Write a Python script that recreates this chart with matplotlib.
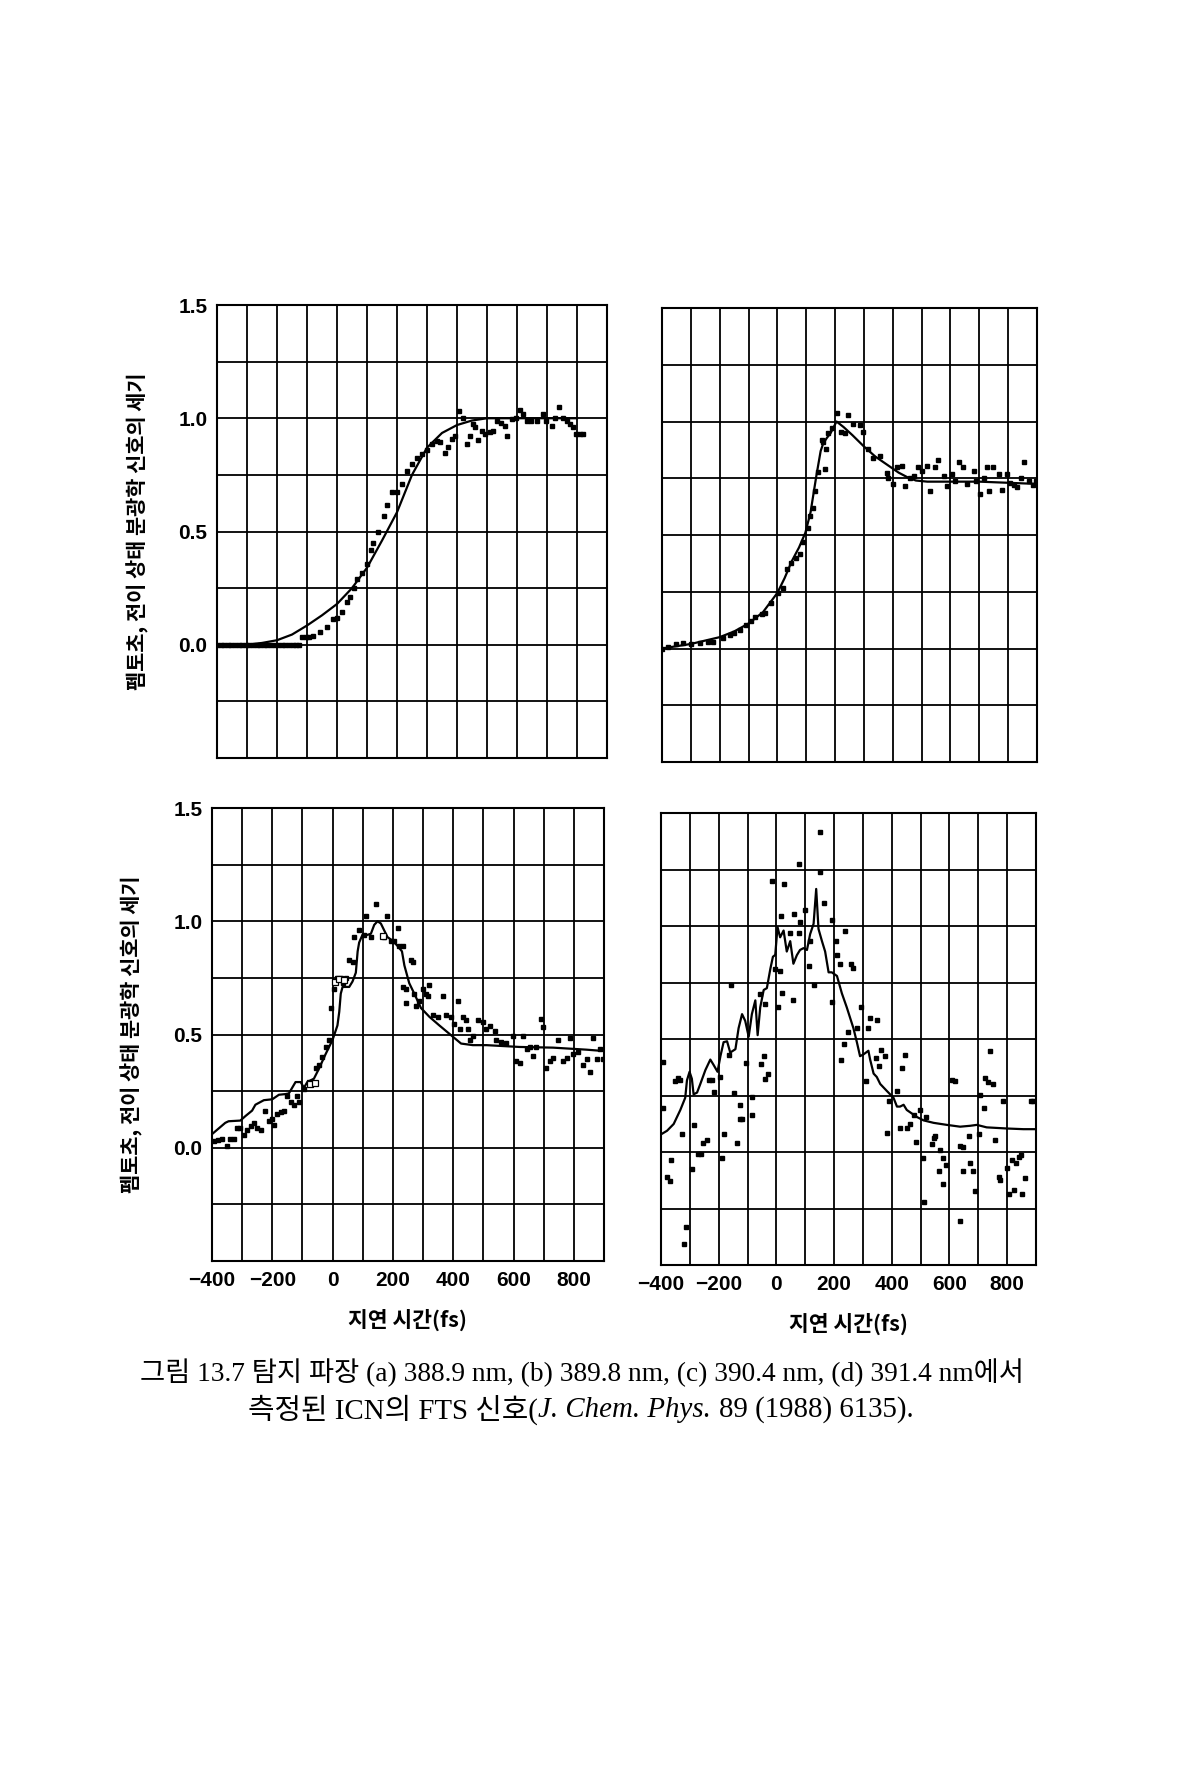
#!/usr/bin/env python3
"""ICN FTS 신호 (그림 13.7) 재현: 4개 패널, 선 + 점."""

import matplotlib
matplotlib.use("Agg")
import matplotlib.pyplot as plt

W, H = 1193, 1767

# --------------------------------------------------------------------
# 축 눈금
x_ticks = [-400, -300, -200, -100, 0, 100, 200, 300, 400, 500, 600, 700, 800, 900]
x_tick_labels = ["\u2212400", "", "\u2212200", "", "0", "", "200", "", "400", "", "600", "", "800", ""]
y_ticks = [-0.5, -0.25, 0.0, 0.25, 0.5, 0.75, 1.0, 1.25, 1.5]
y_tick_labels = ["", "", "0.0", "", "0.5", "", "1.0", "", "1.5"]

y_label = "펨토초, 전이 상태 분광학 신호의 세기"
x_label = "지연 시간(fs)"
caption_1 = "그림 13.7 탐지 파장 (a) 388.9 nm, (b) 389.8 nm, (c) 390.4 nm, (d) 391.4 nm에서"
caption_2 = [("측정된 ICN의 FTS 신호(", "normal"), ("J. Chem. Phys.", "italic"),
             ("89 (1988) 6135).", "normal")]

# --------------------------------------------------------------------
# (a) 388.9 nm
a_line_x = [-400, -350, -300, -250, -200, -150, -100, -50, 0, 50, 100, 150, 200,
            250, 300, 350, 400, 450, 500, 550, 600, 650, 700, 750, 800]
a_line_y = [0.0, 0.0, 0.0, 0.008, 0.02, 0.045, 0.085, 0.13, 0.18, 0.25, 0.34, 0.46, 0.585,
            0.75, 0.87, 0.935, 0.97, 0.99, 1.0, 1.0, 1.0, 1.0, 1.0, 1.0, 1.0]
a_pts_x = [-400, -388, -376, -364, -352, -340, -328, -316, -304, -292, -280, -268, -256,
           -244, -232, -220, -208, -196, -184, -172, -160, -148, -136, -126,
           -117, -105, -92, -80, -56, -34, -12, -1, 16, 33, 44, 55, 68, 83, 99, 112,
           121, 138, 155, 166, 182, 199, 216, 232, 249, 266, 282, 299, 315, 332, 343,
           360, 371, 382, 393, 408, 421, 432, 443, 452, 460, 471, 482, 493, 510, 521,
           534, 548, 560, 567, 582, 598, 609, 620, 632, 648, 665, 687, 698, 715, 726,
           740, 753, 765, 776, 787, 798, 809, 820]
a_pts_y = [0.0] * 24 + [
           0.035, 0.035, 0.035, 0.04, 0.055, 0.08, 0.115, 0.12, 0.145, 0.19, 0.21, 0.25,
           0.29, 0.315, 0.355, 0.42, 0.45, 0.5, 0.57, 0.615, 0.675, 0.675, 0.71, 0.765,
           0.8, 0.825, 0.84, 0.86, 0.885, 0.9, 0.895, 0.845, 0.875, 0.91, 0.92, 1.03,
           1.0, 0.885, 0.92, 0.975, 0.96, 0.905, 0.945, 0.93, 0.94, 0.945, 0.99, 0.98,
           0.965, 0.92, 0.995, 1.0, 1.035, 1.02, 0.99, 0.99, 0.99, 1.02, 0.99, 0.965,
           1.0, 1.05, 1.0, 0.99, 0.975, 0.96, 0.93, 0.93, 0.93]

# (b) 389.8 nm
b_line_x = [-400, -300, -200, -150, -100, -50, 0, 25, 50, 75, 97, 115, 135, 150, 158,
            170, 185, 205, 230, 260, 300, 340, 380, 420, 450, 480, 520, 600, 700, 800, 900]
b_line_y = [0.0, 0.02, 0.05, 0.075, 0.11, 0.16, 0.245, 0.31, 0.385, 0.445, 0.51, 0.6,
            0.76, 0.87, 0.9, 0.925, 0.95, 1.0, 0.975, 0.94, 0.89, 0.845, 0.81, 0.775,
            0.755, 0.74, 0.735, 0.735, 0.735, 0.73, 0.725]
b_pts_x = [-400, -380, -350, -328, -300, -270, -240, -224, -190, -166, -150, -131, -110,
           -90, -79, -55, -44, -21, 2, 19, 35, 48, 66, 77, 90, 106, 112, 124, 130, 141,
           153, 158, 164, 170, 176, 190, 205, 222, 234, 245, 263, 286, 298, 315, 332,
           355, 379, 384, 402, 413, 431, 442, 460, 475, 489, 500, 518, 529, 547, 558,
           576, 587, 605, 615, 628, 645, 657, 680, 690, 703, 715, 726, 732, 749, 767,
           778, 796, 807, 820, 831, 845, 854, 871, 885, 898]
b_pts_y = [0.0, 0.005, 0.02, 0.024, 0.02, 0.025, 0.03, 0.03, 0.045, 0.06, 0.07, 0.083,
           0.105, 0.12, 0.14, 0.15, 0.156, 0.2, 0.245, 0.267, 0.35, 0.378, 0.4, 0.415,
           0.47, 0.533, 0.585, 0.62, 0.695, 0.776, 0.917, 0.91, 0.79, 0.88, 0.95, 0.97,
           1.036, 0.955, 0.95, 1.03, 0.99, 0.985, 0.955, 0.88, 0.84, 0.85, 0.775, 0.75,
           0.725, 0.8, 0.805, 0.715, 0.75, 0.76, 0.8, 0.78, 0.805, 0.695, 0.8, 0.83,
           0.76, 0.715, 0.77, 0.74, 0.82, 0.8, 0.725, 0.78, 0.74, 0.68, 0.75, 0.8, 0.695,
           0.8, 0.77, 0.7, 0.77, 0.73, 0.72, 0.71, 0.75, 0.82, 0.74, 0.72, 0.74]

# (c) 390.4 nm
c_line_x = [-400, -378, -356, -345, -306, -289, -267, -256, -228, -200, -178, -156, -145,
            -134, -123, -106, -95, -84, -62, -45, -23, 0, 16, 22, 27, 33, 55, 66, 77, 83,
            88, 99, 116, 127, 138, 149, 160, 171, 182, 199, 216, 230, 238, 254, 271, 293,
            321, 354, 399, 426, 465, 510, 620, 731, 842, 900]
c_line_y = [0.06, 0.085, 0.11, 0.117, 0.12, 0.14, 0.164, 0.19, 0.21, 0.214, 0.234, 0.237,
            0.24, 0.265, 0.29, 0.29, 0.265, 0.29, 0.305, 0.35, 0.414, 0.477, 0.54, 0.6,
            0.68, 0.71, 0.71, 0.734, 0.773, 0.867, 0.906, 0.94, 0.94, 0.945, 0.984, 1.0,
            0.99, 0.96, 0.93, 0.914, 0.89, 0.867, 0.805, 0.727, 0.68, 0.617, 0.578, 0.54,
            0.49, 0.46, 0.453, 0.453, 0.445, 0.442, 0.433, 0.427]
c_pts_x = [-394, -380, -367, -350, -339, -328, -317, -306, -295, -284, -272, -261, -250,
           -239, -223, -211, -200, -195, -184, -172, -161, -150, -139, -128, -117, -111,
           -95, -78, -67, -56, -45, -34, -23, -12, -6, 5, 16, 27, 33, 44, 55, 66, 72, 88,
           105, 110, 127, 144, 171, 182, 193, 205, 216, 221, 232, 260, 266, 232, 243,
           243, 271, 277, 288, 299, 310, 316, 321, 332, 349, 365, 377, 393, 404, 415,
           421, 432, 443, 448, 454, 465, 482, 499, 510, 521, 537, 543, 560, 576, 598,
           609, 620, 631, 643, 654, 665, 676, 692, 698, 709, 720, 731, 748, 765, 776,
           787, 798, 815, 831, 842, 853, 864, 876, 887, 898]
c_pts_y = [0.03, 0.035, 0.04, 0.008, 0.04, 0.04, 0.086, 0.086, 0.055, 0.078, 0.094, 0.11,
           0.086, 0.078, 0.164, 0.117, 0.125, 0.1, 0.148, 0.156, 0.164, 0.227, 0.203,
           0.19, 0.227, 0.2, 0.258, 0.29, 0.29, 0.35, 0.367, 0.4, 0.445, 0.477, 0.617,
           0.703, 0.75, 0.75, 0.727, 0.75, 0.828, 0.82, 0.93, 0.96, 0.94, 1.023, 0.93,
           1.078, 0.93, 1.023, 0.914, 0.914, 0.97, 0.89, 0.89, 0.828, 0.82, 0.71, 0.703,
           0.64, 0.68, 0.625, 0.648, 0.703, 0.68, 0.67, 0.72, 0.586, 0.578, 0.672, 0.586,
           0.578, 0.547, 0.65, 0.523, 0.578, 0.563, 0.523, 0.477, 0.492, 0.563, 0.555,
           0.523, 0.539, 0.516, 0.477, 0.469, 0.461, 0.492, 0.383, 0.375, 0.492, 0.438,
           0.445, 0.406, 0.445, 0.57, 0.531, 0.352, 0.383, 0.398, 0.477, 0.383, 0.398,
           0.484, 0.414, 0.422, 0.367, 0.39, 0.336, 0.484, 0.39, 0.438, 0.39]
c_open_x = [-75, -60, 8, 22, 38, 166]
c_open_y = [0.28, 0.285, 0.73, 0.745, 0.74, 0.935]

# (d) 391.4 nm
d_line_x = [-400, -379, -356, -333, -316, -310, -301, -293, -287, -275, -264, -246, -229,
            -218, -204, -194, -183, -171, -160, -142, -131, -119, -108, -96, -85, -73,
            -65, -56, -44, -33, -21, -12, -4, 4, 13, 25, 36, 48, 59, 71, 82, 94, 106,
            117, 129, 138, 146, 158, 169, 181, 192, 210, 227, 244, 267, 279, 290, 302,
            319, 325, 337, 348, 360, 383, 406, 418, 429, 441, 452, 470, 487, 510, 545,
            591, 637, 672, 695, 729, 799, 856, 897]
d_line_y = [0.078, 0.094, 0.124, 0.186, 0.24, 0.317, 0.355, 0.324, 0.255, 0.263, 0.3,
            0.363, 0.409, 0.386, 0.355, 0.424, 0.486, 0.49, 0.44, 0.455, 0.548, 0.61,
            0.58, 0.51, 0.61, 0.671, 0.517, 0.64, 0.717, 0.725, 0.81, 0.864, 0.872,
            0.995, 0.95, 0.98, 0.887, 0.933, 0.833, 0.871, 0.894, 0.902, 0.894, 0.964,
            1.01, 1.164, 0.987, 0.933, 0.887, 0.795, 0.795, 0.779, 0.702, 0.64, 0.548,
            0.486, 0.424, 0.432, 0.448, 0.409, 0.347, 0.332, 0.301, 0.27, 0.24, 0.201,
            0.201, 0.209, 0.186, 0.17, 0.155, 0.14, 0.129, 0.12, 0.112, 0.116, 0.12,
            0.109, 0.104, 0.101, 0.101]
d_pts_x = [-393, -393, -365, -379, -370, -350, -342, -333, -327, -321, -312, -287, -293,
           -273, -261, -254, -241, -235, -224, -215, -195, -189, -181, -166, -158, -146,
           -137, -125, -127, -119, -104, -85, -85, -58, -54, -44, -39, -30, -39, -16, -4,
           4, 11, 16, 19, 27, 46, 57, 62, 77, 77, 82, 100, 112, 117, 129, 150, 152, 164,
           192, 192, 207, 210, 221, 239, 247, 235, 224, 258, 267, 279, 293, 311, 325,
           348, 319, 345, 356, 362, 377, 385, 389, 418, 427, 435, 446, 452, 464, 476,
           485, 498, 508, 512, 519, 539, 545, 550, 562, 568, 579, 579, 588, 608, 619,
           635, 646, 637, 648, 666, 672, 683, 689, 704, 706, 718, 724, 732, 741, 750,
           758, 770, 776, 787, 799, 808, 816, 823, 829, 840, 848, 851, 862, 882, 891]
d_pts_y = [0.397, 0.196, -0.035, -0.112, -0.127, 0.313, 0.329, 0.317, 0.078, -0.405,
           -0.333, 0.12, -0.076, -0.01, -0.007, 0.04, 0.055, 0.317, 0.317, 0.267, 0.332,
           -0.025, 0.078, 0.428, 0.74, 0.263, 0.04, 0.209, 0.144, 0.144, 0.394, 0.243,
           0.163, 0.697, 0.391, 0.425, 0.324, 0.344, 0.653, 1.2, 0.81, 0.64, 0.802, 1.044,
           0.702, 1.187, 0.971, 0.674, 1.053, 1.275, 0.971, 1.018, 1.069, 0.825, 0.933,
           0.74, 1.414, 1.238, 1.1, 1.028, 0.663, 0.933, 0.871, 0.833, 0.979, 0.532,
           0.478, 0.406, 0.83, 0.813, 0.548, 0.64, 0.313, 0.594, 0.586, 0.548, 0.417,
           0.381, 0.452, 0.425, 0.082, 0.227, 0.27, 0.104, 0.37, 0.428, 0.104, 0.124,
           0.163, 0.043, 0.186, -0.025, -0.222, 0.155, 0.036, 0.063, 0.07, -0.084, 0.008,
           -0.142, -0.025, -0.056, 0.32, 0.313, 0.027, 0.021, -0.307, -0.084, 0.073,
           -0.049, -0.084, -0.173, 0.078, 0.252, 0.193, 0.326, 0.31, 0.448, 0.301, 0.052,
           -0.112, -0.122, 0.224, -0.072, -0.184, -0.035, -0.17, -0.05, -0.02, -0.015,
           -0.188, -0.117, 0.224, 0.227]

# --------------------------------------------------------------------
KO = ["Noto Sans CJK KR", "DejaVu Sans"]
NUM = ["Liberation Sans", "DejaVu Sans"]
SERIF = ["Liberation Serif", "Noto Sans CJK KR"]


def make_axes(fig, x0, x1, y0, y1):
    return fig.add_axes([x0 / W, 1 - y1 / H, (x1 - x0) / W, (y1 - y0) / H])


def style_panel(ax, show_x, show_y):
    ax.set_xlim(-400, 900)
    ax.set_ylim(-0.5, 1.5)
    ax.set_xticks(x_ticks)
    ax.set_yticks(y_ticks)
    ax.set_xticklabels(x_tick_labels if show_x else [""] * len(x_ticks),
                       family=NUM, fontsize=15, weight="bold")
    ax.set_yticklabels(y_tick_labels if show_y else [""] * len(y_ticks),
                       family=NUM, fontsize=15, weight="bold")
    ax.tick_params(length=0, pad=7)
    ax.grid(True, color="black", linewidth=1.3)
    for sp in ax.spines.values():
        sp.set_linewidth(1.5)
    if show_y:
        ax.set_ylabel(y_label, family=KO, fontsize=15, weight="bold")
        ax.yaxis.set_label_coords(-0.175, 0.5)
    if show_x:
        ax.text(0.5, -0.13, x_label, transform=ax.transAxes, ha="center", va="center",
                family=KO, fontsize=15.5, weight="bold")


def draw(ax, lx, ly, px, py):
    ax.plot(lx, ly, color="black", linewidth=1.6, zorder=3)
    ax.plot(px, py, "s", color="black", markersize=3.2, linestyle="none", zorder=4)


fig = plt.figure(figsize=(W / 100, H / 100), dpi=100)
fig.patch.set_facecolor("white")

ax_a = make_axes(fig, 217, 607, 305, 758)
ax_b = make_axes(fig, 662, 1037, 308, 762)
ax_c = make_axes(fig, 212, 604, 808, 1261)
ax_d = make_axes(fig, 661, 1036, 813, 1265)

style_panel(ax_a, False, True)
style_panel(ax_b, False, False)
style_panel(ax_c, True, True)
style_panel(ax_d, True, False)

draw(ax_a, a_line_x, a_line_y, a_pts_x, a_pts_y)
draw(ax_b, b_line_x, b_line_y, b_pts_x, b_pts_y)
draw(ax_c, c_line_x, c_line_y, c_pts_x, c_pts_y)
ax_c.plot(c_open_x, c_open_y, "s", markerfacecolor="white", markeredgecolor="black",
          markersize=4, markeredgewidth=0.9, linestyle="none", zorder=5)
draw(ax_d, d_line_x, d_line_y, d_pts_x, d_pts_y)

# --------------------------------------------------------------------
# 캡션: 각 줄 폭에 글자 크기를 맞춤
renderer = fig.canvas.get_renderer()
t1 = fig.text(582 / W, 1 - 1373 / H, caption_1, family=SERIF, fontsize=16,
              ha="center", va="center")
w1 = t1.get_window_extent(renderer).width
size = 16 * 885 / w1
t1.set_fontsize(size)

parts = []
for s, st in caption_2:
    parts.append(fig.text(0, 1 - 1410 / H, s, family=SERIF, fontsize=size,
                          style=st, ha="left", va="center"))
gap_em = 0.28


def layout_line(target):
    gap = parts[0].get_fontsize() * 100 / 72 * gap_em
    widths = [p.get_window_extent(renderer).width for p in parts]
    total = sum(widths) + gap
    x = 581 - total / 2
    # "(" 다음에는 공백이 없음
    for i, (p, w) in enumerate(zip(parts, widths)):
        p.set_x(x / W)
        x += w + (gap if i == 1 else 0)
    return total


total2 = layout_line(665)
size2 = size * 665 / total2
for p in parts:
    p.set_fontsize(size2)
layout_line(665)

fig.savefig("out.png", dpi=100, facecolor="white")
